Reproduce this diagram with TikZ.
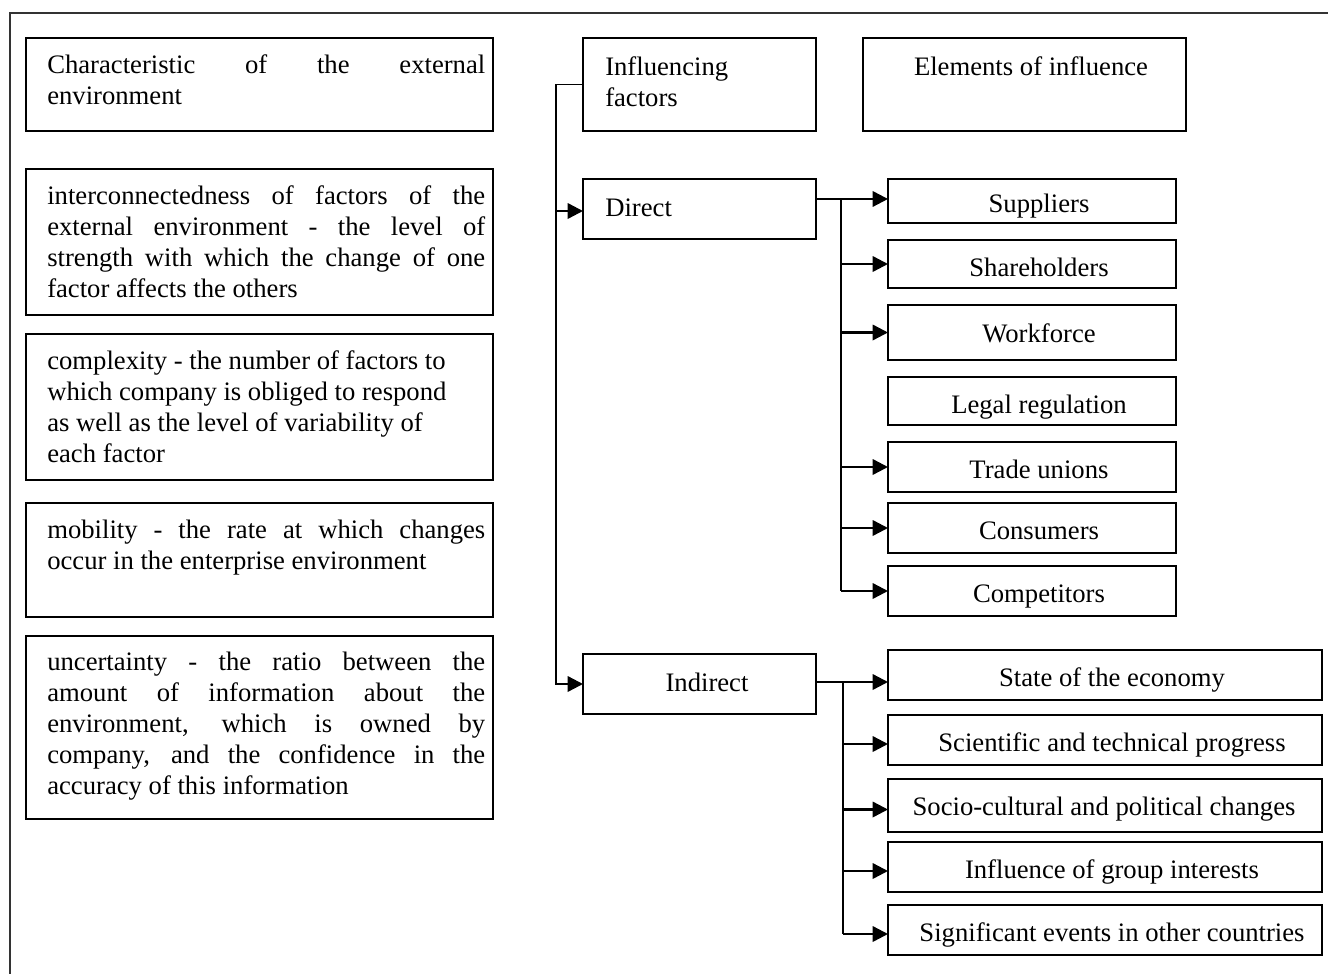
\documentclass[tikz,border=0pt]{standalone}
\usepackage{fontspec}
\setmainfont{Liberation Serif}
\usetikzlibrary{arrows.meta,calc}
\newcommand\bx[5]{\node[box, minimum width={(#4-#2)*0.75pt}, minimum height={(#5-#3)*0.75pt}] (#1) at (#2,#3) {};}
\begin{document}
\begin{tikzpicture}[x=0.75pt,y=-0.75pt,
  box/.style={draw, line width=1.8pt, inner sep=0pt, outer sep=0pt, anchor=north west},
  txt/.style={font=\fontsize{20}{23.25}\selectfont, inner sep=0pt},
  para/.style={txt, anchor=north west, text width=328.5pt, align=justify},
  ln/.style={line width=1.8pt},
  thinln/.style={line width=1pt},
  arr/.style={line width=1.8pt, -{Triangle[length=11.5pt,width=11.5pt]}}]
\useasboundingbox (0,0) rectangle (1328,974);
\draw[line width=1.8pt, draw=black!80] (10,974) -- (10,13) -- (1328,13);

% left column
\bx{L1}{26}{38}{493}{131}
\bx{L2}{26}{169}{493}{315}
\bx{L3}{26}{334}{493}{480}
\bx{L4}{26}{503}{493}{617}
\bx{L5}{26}{636}{493}{819}
\node[para] (t1) at (47,53) {\rule{0pt}{15pt}Characteristic of the external\linebreak environment};
\node[para] (t2) at (47,184) {\rule{0pt}{15pt}interconnectedness of factors of the\linebreak external environment - the level of\linebreak strength with which the change of one\linebreak factor affects the others};
\node[txt, anchor=north west, align=left] (t3) at (47,349) {\rule{0pt}{15pt}complexity - the number of factors to\\which company is obliged to respond\\as well as the level of variability of\\each factor};
\node[para] (t4) at (47,518) {\rule{0pt}{15pt}mobility - the rate at which changes\linebreak occur in the enterprise environment};
\node[para] (t5) at (47,650) {\rule{0pt}{15pt}uncertainty - the ratio between the\linebreak amount of information about the\linebreak environment, which is owned by\linebreak company, and the confidence in the\linebreak accuracy of this information};

% middle column
\bx{IF}{583}{38}{816}{131}
\bx{Direct}{583}{179}{816}{239}
\bx{Indirect}{583}{654}{816}{714}
\node[txt, anchor=north west, align=left] (tIF) at (605,55) {\rule{0pt}{15pt}Influencing\\factors};
\node[txt, anchor=base west] (tD) at (605,216) {Direct};
\node[txt, anchor=base] (tI) at (707,691) {Indirect};

% right column
\bx{EOI}{863}{38}{1186}{131}
\node[txt, anchor=base] (tE) at (1031,75) {Elements of influence};

\bx{Sup}{888}{179}{1176}{223}
\bx{Sha}{888}{240}{1176}{288}
\bx{Wor}{888}{305}{1176}{360}
\bx{Leg}{888}{377}{1176}{425}
\bx{Tra}{888}{442}{1176}{492}
\bx{Con}{888}{503}{1176}{553}
\bx{Com}{888}{566}{1176}{616}
\node[txt, anchor=base] at (1039,212) {Suppliers};
\node[txt, anchor=base] at (1039,276) {Shareholders};
\node[txt, anchor=base] at (1039,342) {Workforce};
\node[txt, anchor=base] at (1039,413) {Legal regulation};
\node[txt, anchor=base] at (1039,478) {Trade unions};
\node[txt, anchor=base] at (1039,539) {Consumers};
\node[txt, anchor=base] at (1039,602) {Competitors};

\bx{Sta}{888}{650}{1322}{700}
\bx{Sci}{888}{715}{1322}{765}
\bx{Soc}{888}{779}{1322}{832}
\bx{Inf}{888}{842}{1322}{892}
\bx{Sig}{888}{905}{1322}{955}
\node[txt, anchor=base] at (1112,686) {State of the economy};
\node[txt, anchor=base] at (1112,751) {Scientific and technical progress};
\node[txt, anchor=base] at (1104,815) {Socio-cultural and political changes};
\node[txt, anchor=base] at (1112,878) {Influence of group interests};
\node[txt, anchor=base] at (1112,941) {Significant events in other countries};

% connectors
\coordinate (lt) at (556,0);
\draw[thinln] (IF.west) -- (IF.west -| lt);
\draw[arr] (IF.west -| lt) |- (Indirect.west);
\draw[arr] ($(Direct.west -| lt)+(0,2)$) -- ($(Direct.west)+(0,2)$);

\coordinate (dt) at (841,0);
\coordinate (ds) at ($(Direct.north east)!0.333!(Direct.south east)$);
\draw[thinln] (ds) -- (ds -| dt);
\draw[arr] (ds -| dt) -- (ds -| Sup.west);
\draw[ln] (ds -| dt) -- (Com.west -| dt);
\foreach \n in {Sha,Wor,Tra,Con,Com}
  \draw[arr] (\n.west -| dt) -- (\n.west);

\coordinate (it) at (843,0);
\coordinate (is) at ($(Indirect.east)+(0,-2)$);
\draw[thinln] (is) -- (is -| it);
\draw[arr] (is -| it) -- (is -| Sta.west);
\draw[ln] (is -| it) -- ($(Sig.west -| it)+(0,4)$);
\foreach \n in {Sci,Soc,Inf,Sig}
  \draw[arr] ($(\n.west -| it)+(0,4)$) -- ($(\n.west)+(0,4)$);
\end{tikzpicture}
\end{document}
